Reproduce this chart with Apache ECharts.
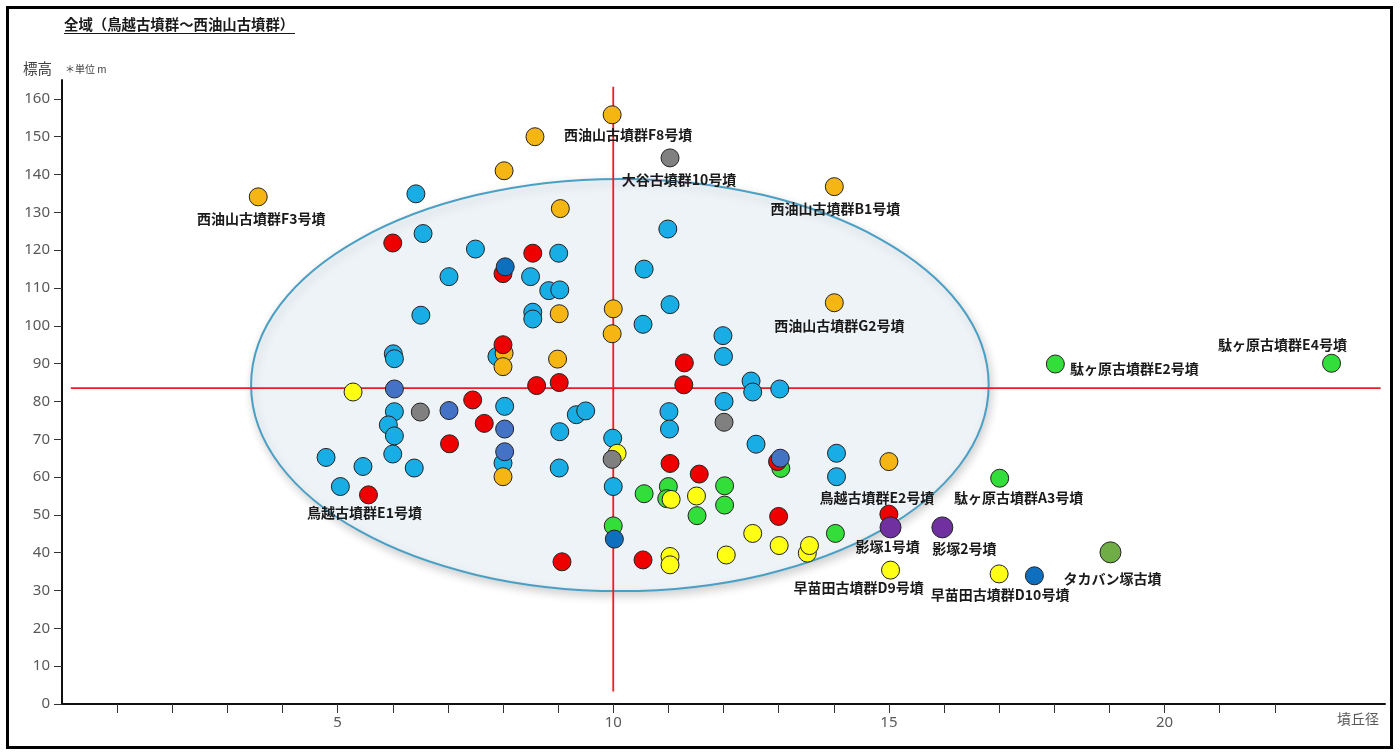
<!DOCTYPE html>
<html>
<head>
<meta charset="utf-8">
<script src="https://cdn.jsdelivr.net/npm/echarts@6/dist/echarts.min.js"></script>
<style>
  html, body { margin: 0; padding: 0; background: #fff; }
  #chart { width: 1400px; height: 756px; }
</style>
</head>
<body>
<div id="chart"></div>
<script>
// 墳丘径 (x) / 標高 (y)、ラベル付きの点は3番目に名前
const lightBlue = [
  [6.42, 134.9], [6.55, 124.4], [7.02, 113.0], [6.51, 102.8], [6.01, 92.6], [6.03, 91.3],
  [7.50, 120.3], [8.50, 113.0], [9.01, 119.2], [8.83, 109.3], [9.03, 109.5], [8.54, 103.6],
  [8.54, 101.8], [10.99, 125.6], [10.56, 115.0], [11.03, 105.6], [10.54, 100.4], [11.99, 97.4],
  [12.0, 91.9], [12.50, 85.4], [12.53, 82.5], [13.02, 83.3], [7.89, 91.9], [8.03, 78.7],
  [9.33, 76.5], [9.50, 77.5], [11.01, 77.3], [12.01, 80.0], [9.03, 72.0], [9.02, 62.4],
  [8.0, 63.7], [9.99, 70.3], [10.0, 57.5], [11.02, 72.7], [12.59, 68.7], [14.05, 66.3],
  [14.05, 60.1], [6.03, 77.3], [5.92, 73.8], [6.03, 70.9], [6.0, 66.1], [4.79, 65.2],
  [5.46, 62.8], [6.39, 62.4], [5.05, 57.5]
];
const green = [
  [10.56, 55.6], [11.0, 57.5], [10.97, 54.3], [11.52, 49.8], [12.02, 57.7], [12.02, 52.6],
  [10.0, 47.1], [14.03, 45.1], [13.04, 62.3],
  [17.01, 59.7, '駄ヶ原古墳群A3号墳'], [18.02, 89.9, '駄ヶ原古墳群E2号墳'], [23.03, 90.1, '駄ヶ原古墳群E4号墳']
];
const yellow = [
  [5.28, 82.5], [10.07, 66.3], [11.05, 54.1], [11.51, 55.0], [12.53, 45.1], [13.01, 41.9],
  [13.52, 39.9], [13.56, 41.9], [12.05, 39.4], [11.03, 39.0], [11.03, 36.8],
  [15.03, 35.4, '早苗田古墳群D9号墳'], [17.0, 34.4, '早苗田古墳群D10号墳']
];
const orange = [
  [3.56, 134.1, '西油山古墳群F3号墳'], [8.02, 141.0], [8.58, 150.0], [9.98, 155.8, '西油山古墳群F8号墳'],
  [9.04, 131.0], [14.01, 136.8, '西油山古墳群B1号墳'], [14.01, 106.1, '西油山古墳群G2号墳'],
  [10.0, 104.5], [9.98, 97.9], [9.02, 103.2], [8.99, 91.2], [8.02, 92.8], [8.0, 89.2],
  [8.0, 60.1], [15.0, 64.1]
];
const red = [
  [6.0, 121.9], [8.54, 119.2], [8.0, 113.8], [8.0, 95.0], [8.61, 84.2], [9.02, 85.0],
  [11.29, 90.2], [11.28, 84.4], [7.45, 80.4], [7.66, 74.2], [7.03, 68.8], [11.03, 63.6],
  [11.56, 60.8], [12.98, 64.1], [13.0, 49.6], [15.0, 50.2, '鳥越古墳群E2号墳'],
  [9.07, 37.6], [10.54, 38.1], [5.56, 55.3, '鳥越古墳群E1号墳']
];
const gray = [[11.03, 144.4, '大谷古墳群10号墳'], [6.5, 77.2], [9.98, 64.7], [12.01, 74.5]];
const royalBlue = [[6.03, 83.3], [7.02, 77.6], [8.03, 72.7], [8.03, 66.7], [13.03, 65.0]];
const darkBlue = [[8.04, 115.6], [10.02, 43.6], [17.64, 33.9]];
const purple = [[15.03, 46.7, '影塚1号墳'], [15.97, 46.7, '影塚2号墳']];
const olive = [[19.02, 40.1, 'タカバン塚古墳']];

// 基準線と楕円 (データ単位)
const hLine = [[0.16, 83.5], [23.92, 83.5]];
const vLine = [[10, 163.2], [10, 3.3]];
const ellipse = [[10.12, 84.35, 6.69, 54.5]];

const xTicks = [1, 2, 3, 4, 5, 6, 7, 8, 9, 10, 11, 12, 13, 14, 15, 16, 17, 18, 19, 20, 21, 22];
const xLabels = [5, 10, 15, 20];
const yTicks = [0, 10, 20, 30, 40, 50, 60, 70, 80, 90, 100, 110, 120, 130, 140, 150, 160];

// ラベルの位置 (点の中心からのずれ, px)
const labelOffsets = {
  '西油山古墳群F3号墳': [3, 22],
  '西油山古墳群F8号墳': [16, 20],
  '大谷古墳群10号墳': [9, 22],
  '西油山古墳群B1号墳': [1, 22],
  '西油山古墳群G2号墳': [5, 23],
  '駄ヶ原古墳群E2号墳': [79, 5],
  '駄ヶ原古墳群E4号墳': [-49, -19],
  '鳥越古墳群E1号墳': [-4, 18],
  '鳥越古墳群E2号墳': [-12, -16],
  '駄ヶ原古墳群A3号墳': [19, 19],
  '影塚1号墳': [-3, 19],
  '影塚2号墳': [22, 21],
  '早苗田古墳群D9号墳': [-32, 18],
  '早苗田古墳群D10号墳': [1, 21],
  'タカバン塚古墳': [2, 26]
};

const FONT = '"Noto Sans CJK JP", "Noto Sans", sans-serif';
const NUM_FONT = '"Noto Sans", "DejaVu Sans", sans-serif';

function toItems(arr) {
  return arr.map(p => {
    if (p.length < 3) return { value: [p[0], p[1]] };
    return {
      value: [p[0], p[1]],
      label: { show: true, formatter: p[2], position: 'inside', offset: labelOffsets[p[2]] }
    };
  });
}

function scatter(arr, color, size) {
  return {
    type: 'scatter',
    z: 3,
    data: toItems(arr),
    symbolSize: size || 18,
    itemStyle: { color: color, borderColor: '#222', borderWidth: 1, opacity: 1 },
    label: {
      show: false,
      color: '#1a1a1a',
      fontSize: 14,
      fontWeight: 'bold',
      fontFamily: FONT
    },
    emphasis: { disabled: true }
  };
}

const myChart = echarts.init(document.getElementById('chart'));

const option = {
  animation: false,
  backgroundColor: '#fff',
  grid: { left: 62, right: 15, top: 80, bottom: 52 },
  xAxis: {
    type: 'value',
    min: 0,
    max: 24,
    interval: 1,
    axisLine: { show: true, lineStyle: { color: '#111', width: 2 } },
    axisTick: { show: true, length: 9, customValues: xTicks, lineStyle: { color: '#333', width: 1 } },
    axisLabel: { customValues: xLabels, color: '#595959', fontSize: 15, margin: 11, fontFamily: NUM_FONT },
    splitLine: { show: false }
  },
  yAxis: {
    type: 'value',
    min: 0,
    max: 165,
    interval: 5,
    axisLine: { show: true, lineStyle: { color: '#111', width: 2 } },
    axisTick: { show: true, length: 8, customValues: yTicks, lineStyle: { color: '#333', width: 1 } },
    axisLabel: { customValues: yTicks, color: '#595959', fontSize: 15, margin: 12, fontFamily: NUM_FONT },
    splitLine: { show: false }
  },
  graphic: [
    {
      type: 'rect', z: 100, silent: true,
      shape: { x: 7.5, y: 7.5, width: 1384, height: 740 },
      style: { fill: 'none', stroke: '#000', lineWidth: 3 }
    },
    {
      type: 'text', left: 64, top: 17,
      style: { text: '全域（鳥越古墳群～西油山古墳群）', font: 'bold 14.4px ' + FONT, fill: '#1a1a1a' }
    },
    {
      type: 'line', silent: true,
      shape: { x1: 64, y1: 33.5, x2: 295, y2: 33.5 },
      style: { stroke: '#1a1a1a', lineWidth: 1 }
    },
    {
      type: 'text', left: 23, top: 61,
      style: { text: '標高', font: '14.5px ' + FONT, fill: '#404040' }
    },
    {
      type: 'text', left: 65, top: 64,
      style: { text: '＊単位 m', font: '10px ' + FONT, fill: '#404040' }
    },
    {
      type: 'text', left: 1337, top: 712,
      style: { text: '墳丘径', font: '14px ' + FONT, fill: '#595959' }
    }
  ],
  series: [
    {
      type: 'custom',
      z: 1,
      silent: true,
      data: ellipse,
      renderItem: function (params, api) {
        const c = api.coord([api.value(0), api.value(1)]);
        const s = api.size([api.value(2), api.value(3)]);
        return {
          type: 'ellipse',
          shape: { cx: c[0], cy: c[1], rx: s[0], ry: s[1] },
          style: {
            fill: '#eef3f7',
            stroke: '#4a9fc4',
            lineWidth: 2,
            shadowBlur: 10,
            shadowColor: 'rgba(0,0,0,0.18)',
            shadowOffsetX: 2,
            shadowOffsetY: 4
          }
        };
      }
    },
    {
      type: 'line', z: 2, data: hLine, symbol: 'none', silent: true,
      lineStyle: { color: '#ee1c25', width: 1.8 }
    },
    {
      type: 'line', z: 2, data: vLine, symbol: 'none', silent: true,
      lineStyle: { color: '#ee1c25', width: 1.8 }
    },
    scatter(lightBlue, '#19ade6'),
    scatter(green, '#33dd3a'),
    scatter(yellow, '#ffff14'),
    scatter(orange, '#f5b614'),
    scatter(red, '#ee0000'),
    scatter(gray, '#808080'),
    scatter(royalBlue, '#4472c4'),
    scatter(darkBlue, '#0f6fbf'),
    scatter(purple, '#7030a0', 21),
    scatter(olive, '#70ad47', 21)
  ]
};

myChart.setOption(option);
</script>
</body>
</html>
